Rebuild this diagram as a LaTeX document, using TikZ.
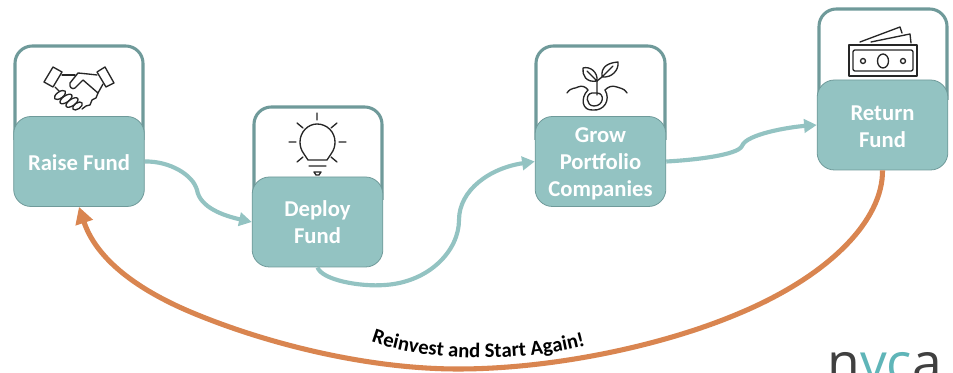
\documentclass[tikz,border=0pt]{standalone}
\usepackage{fontspec}
\setmainfont{Carlito}
\newfontfamily\logofont{Open Sans}
\usetikzlibrary{arrows.meta,decorations.text}
\definecolor{tealfill}{HTML}{93C3C2}
\definecolor{tealline}{HTML}{6F9A9A}
\definecolor{orangeline}{HTML}{D98550}
\definecolor{logogrey}{HTML}{404040}
\definecolor{logoteal}{HTML}{5FB5B8}
\newcommand{\lowered}[2]{\raisebox{#1}[\height][\depth]{#2}}
\tikzset{
  x=0.75pt,y=-0.75pt,
  iconbox/.style={draw=tealline,line width=2.3pt,fill=white,rounded corners=13pt},
  labelbox/.style={draw=tealline,line width=0.6pt,fill=tealfill,rounded corners=13pt,minimum width=98pt,minimum height=67.5pt,inner sep=0pt,align=center,text=white,font=\bfseries\fontsize{17}{20.2}\selectfont},
  flow/.style={draw=tealfill,line width=3.1pt,-{Triangle[length=9.5pt,width=10pt,fill=tealfill]}},
  back/.style={draw=orangeline,line width=3.8pt,-{Triangle[length=12.5pt,width=13pt,fill=orangeline]}},
  icon/.style={draw=black!85,line width=1pt,line join=round,line cap=round},
}
\begin{document}
\begin{tikzpicture}
\useasboundingbox (0,0) rectangle (953,373);
\fill[white] (0,0) rectangle (953,373);
% icon frames
\draw[iconbox] (15,140) -- (15,46) -- (143,46) -- (143,140);
\draw[iconbox] (254,200) -- (254,107) -- (382,107) -- (382,200);
\draw[iconbox] (536,140) -- (536,46) -- (665,46) -- (665,140);
\draw[iconbox] (819,100) -- (819,9) -- (947,9) -- (947,100);
% handshake
\draw[icon] (53,67) -- (62,72) -- (53,87) -- (44,82) -- cycle;
\draw[icon] (105,67) -- (114,83) -- (106,87) -- (97,72) -- cycle;
\draw[icon] (62,75) -- (75,75);
\draw[icon] (97,75) -- (88,74) -- (78,73) -- (70,83) .. controls (69,87) and (72,90) .. (75,88) -- (83,80) -- (98,93) -- (96,98) -- (92,100) -- (90,105) -- (86,106) -- (82,109);
\draw[icon] (103,84) -- (98,93);
\draw[icon] (55,87) -- (60,92);
\draw[icon,fill=white,rotate around={35:(60,95)}] (60,95) ellipse [x radius=6.5,y radius=3.2];
\draw[icon,fill=white,rotate around={35:(66,99)}] (66,99) ellipse [x radius=7,y radius=3.2];
\draw[icon,fill=white,rotate around={35:(72,102.5)}] (72,102.5) ellipse [x radius=7,y radius=3.2];
\draw[icon,fill=white,rotate around={35:(77.5,106)}] (77.5,106) ellipse [x radius=5.5,y radius=3];
% bulb
\draw[icon] (308,160) -- (304,154) .. controls (301,150) and (300,146) .. (300,142) .. controls (300,132) and (308,124) .. (317,124) .. controls (327,124) and (335,132) .. (335,142) .. controls (335,146) and (334,150) .. (331,154) -- (327,160) -- cycle;
\draw[icon] (317,113) -- (317,120) (297,123) -- (303,128) (337,123) -- (331,128) (289,142) -- (296,142) (339,142) -- (346,142) (297,162) -- (303,157) (337,162) -- (331,157) (309,166) -- (326,166);
\draw[icon] (314,172) -- (321,172) -- (319,175) -- (316,175) -- cycle;
% sprout
\draw[icon] (597,95) -- (597,81) -- (602,77);
\draw[icon] (597,81) .. controls (586,83) and (582,75) .. (583,68) .. controls (590,66) and (598,72) .. (597,81) -- (587,71);
\draw[icon] (602,77) .. controls (601,68) and (606,63) .. (618,62) .. controls (619,70) and (612,78) .. (602,77) -- (613,66);
\draw[icon] (567,93) .. controls (571,87) and (575,89) .. (578,87) .. controls (582,85) and (586,87) .. (588,90);
\draw[icon] (627,93) .. controls (623,87) and (620,89) .. (617,87) .. controls (612,85) and (608,87) .. (605,90);
\draw[icon] (588,90) .. controls (580,98) and (582,111) .. (593,110) .. controls (604,111) and (611,100) .. (605,90);
\draw[icon] (597,93) .. controls (605,93) and (604,106) .. (594,106) .. controls (586,106) and (585,94) .. (592,93) -- (597,93);
% money
\draw[icon] (849,45) rectangle (917,76);
\draw[icon,rounded corners=1.5pt] (853,50) rectangle (913,71);
\draw[icon] (883,61) ellipse [x radius=5.5,y radius=7];
\draw[icon] (863,61) circle [radius=2.5] (903,61) circle [radius=2.5];
\draw[icon] (860,42) -- (900,27) -- (902,33) (871,42) -- (910,34) -- (911,43);
% boxes
\node[labelbox] (raise) at (79,161.5) {\lowered{-0.8pt}{Raise Fund}};
\node[labelbox] (deploy) at (317.5,222) {Deploy\\Fund};
\node[labelbox] (grow) at (600.5,161.5) {\lowered{-1.5pt}{Grow}\\\lowered{-1.5pt}{Portfolio}\\\lowered{-1.5pt}{Companies}};
\node[labelbox] (return) at (882.5,125) {\lowered{-1.5pt}{Return}\\\lowered{-1.5pt}{Fund}};
% connectors
\draw[flow] (raise.east) .. controls (170,161) and (193,175) .. (197,190) .. controls (200,208) and (225,216) .. (deploy.west);
\draw[flow] (deploy.south) .. controls (322,280) and (360,287) .. (385,285) .. controls (430,282) and (459,250) .. (459,220) .. controls (459,190) and (490,168) .. (grow.west);
\draw[flow] (grow.east) .. controls (695,160) and (738,155) .. (742,146) .. controls (746,134) and (790,127) .. (return.west);
\draw[back] (return.south) .. controls (883,220) and (830,275) .. (740,313) .. controls (660,347) and (550,369) .. (458,369) .. controls (370,369) and (270,345) .. (193,313) .. controls (130,286.8) and (95,255) .. (raise.south);
\path[decorate,decoration={text along path,text align=center,text={|\bfseries\fontsize{15.5}{17}\selectfont|Reinvest and Start Again!}}]
  (360,337) .. controls (420,364) and (530,364) .. (597,342);
% logo
\begin{scope}
\clip (0,0) rectangle (953,373);
\node[anchor=base west,inner sep=0pt,font=\fontsize{40}{40}\selectfont\logofont] (logo) at (827,382) {\textcolor{logogrey}{n}\textcolor{logoteal}{vc}\textcolor{logogrey}{a}};
\end{scope}
\end{tikzpicture}
\end{document}
